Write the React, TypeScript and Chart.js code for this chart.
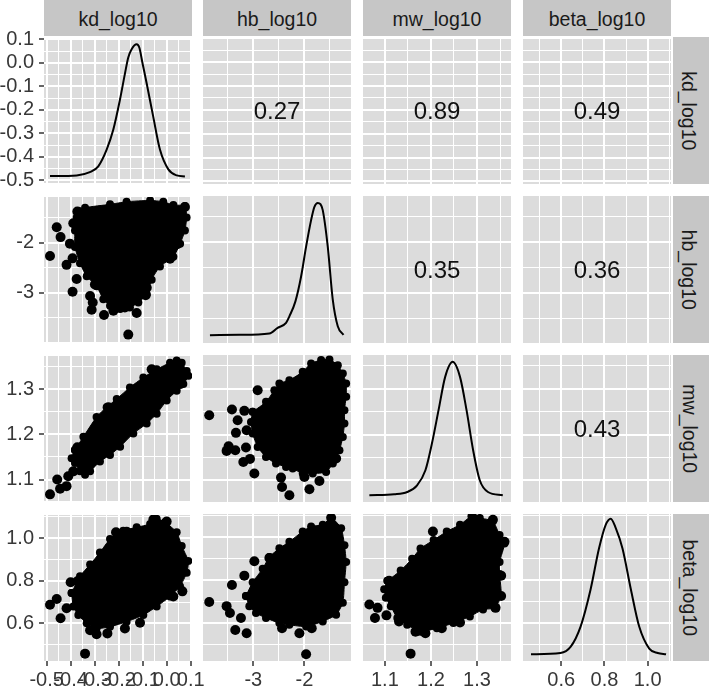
import React, { useEffect, useRef } from 'react';
import { Chart, registerables } from 'chart.js';

Chart.register(...registerables);

// ---------------- data ----------------
const variableNames = ['kd_log10', 'hb_log10', 'mw_log10', 'beta_log10'];

const kdLimits = [-0.511, 0.1055];
const hbLimits = [-3.985, -1.088];
const mwLimits = [1.0525, 1.3738];
const betaLimits = [0.4235, 1.108];

const kdMajorTicks = [-0.5, -0.4, -0.3, -0.2, -0.1, 0.0, 0.1];
const kdTickLabels = ['-0.5', '-0.4', '-0.3', '-0.2', '-0.1', '0.0', '0.1'];
const kdMinorTicks = [-0.45, -0.35, -0.25, -0.15, -0.05, 0.05];

const hbMajorTicks = [-3, -2];
const hbTickLabels = ['-3', '-2'];
const hbMinorTicks = [-3.5, -2.5, -1.5];

const mwMajorTicks = [1.1, 1.2, 1.3];
const mwTickLabels = ['1.1', '1.2', '1.3'];
const mwMinorTicks = [1.15, 1.25, 1.35];

const betaMajorTicks = [0.6, 0.8, 1.0];
const betaTickLabels = ['0.6', '0.8', '1.0'];
const betaMinorTicks = [0.5, 0.7, 0.9, 1.1];

// correlations (upper triangle)
const correlationPairs = [[0, 1], [0, 2], [0, 3], [1, 2], [1, 3], [2, 3]];
const correlationLabels = ['0.27', '0.89', '0.49', '0.35', '0.36', '0.43'];

// diagonal densities (y already in the row variable's units)
const kdDensityX = [-0.486, -0.375, -0.32, -0.285, -0.25, -0.2225, -0.195, -0.174, -0.16, -0.146, -0.125, -0.114, -0.1, -0.083, -0.056, -0.028, 0.007, 0.042, 0.076];
const kdDensityY = [-0.4815, -0.4786, -0.465, -0.44, -0.369, -0.285, -0.159, -0.047, 0.023, 0.058, 0.079, 0.065, -0.005, -0.089, -0.229, -0.369, -0.453, -0.4785, -0.483];

const hbDensityX = [-3.849, -3.275, -2.686, -2.524, -2.359, -2.294, -2.176, -2.065, -1.967, -1.869, -1.804, -1.739, -1.686, -1.641, -1.543, -1.445, -1.347, -1.235];
const hbDensityY = [-3.831, -3.824, -3.798, -3.686, -3.588, -3.459, -3.165, -2.675, -2.086, -1.563, -1.302, -1.224, -1.249, -1.367, -2.086, -3.131, -3.655, -3.824];

const mwDensityX = [1.0663, 1.12, 1.1485, 1.17, 1.188, 1.2021, 1.2165, 1.2309, 1.2472, 1.2631, 1.2773, 1.2916, 1.306, 1.3238, 1.356];
const mwDensityY = [1.0672, 1.0694, 1.0744, 1.0891, 1.1219, 1.1803, 1.2532, 1.326, 1.3589, 1.326, 1.2532, 1.1656, 1.1, 1.0744, 1.0672];

const betaDensityX = [0.4605, 0.5967, 0.6433, 0.6898, 0.7363, 0.7749, 0.806, 0.8293, 0.8526, 0.8837, 0.9223, 0.9609, 1.0074, 1.0465, 1.0851];
const betaDensityY = [0.4545, 0.4607, 0.4891, 0.5839, 0.7578, 0.9474, 1.0578, 1.0863, 1.0422, 0.9474, 0.7578, 0.5839, 0.4815, 0.4607, 0.4545];

// lower-triangle scatter: dense core outline + isolated points  [x, y]
const kdHbCore = [[-0.368, -1.366], [-0.340, -1.301], [-0.236, -1.235], [-0.167, -1.183], [-0.069, -1.157], [-0.014, -1.183], [0.028, -1.248], [0.076, -1.268], [0.083, -1.497], [0.076, -1.758], [0.056, -2.020], [0.028, -2.281], [-0.028, -2.477], [-0.0625, -2.739], [-0.083, -3.033], [-0.118, -3.196], [-0.153, -3.294], [-0.194, -3.327], [-0.236, -3.261], [-0.264, -3.131], [-0.292, -2.869], [-0.333, -2.673], [-0.361, -2.412], [-0.382, -2.085], [-0.382, -1.758], [-0.375, -1.497]];
const kdHbPoints = [[-0.486, -2.268], [-0.458, -1.693], [-0.442, -1.889], [-0.403, -2.020], [-0.417, -2.444], [-0.389, -1.614], [-0.392, -2.314], [-0.375, -2.725], [-0.392, -2.980], [-0.319, -3.065], [-0.308, -3.196], [-0.3125, -3.340], [-0.299, -2.837], [-0.261, -3.444], [-0.222, -3.359], [-0.174, -3.294], [-0.160, -3.837], [-0.125, -3.405], [-0.128, -3.144], [-0.083, -2.902], [-0.0875, -3.052], [0.044, -2.033], [0.014, -2.320], [0.076, -1.288], [-0.372, -1.379]];

const kdMwCore = [[-0.382, 1.1656], [-0.347, 1.1948], [-0.292, 1.2386], [-0.25, 1.2605], [-0.208, 1.2787], [-0.153, 1.3042], [-0.0972, 1.3261], [-0.0417, 1.3443], [0.0139, 1.3589], [0.0417, 1.364], [0.0625, 1.3589], [0.0833, 1.3407], [0.0903, 1.3298], [0.0694, 1.3115], [0.0417, 1.2969], [0.0, 1.2751], [-0.0417, 1.2459], [-0.0833, 1.224], [-0.139, 1.2021], [-0.194, 1.1729], [-0.236, 1.1547], [-0.278, 1.1401], [-0.319, 1.1182], [-0.340, 1.1109], [-0.361, 1.1182], [-0.382, 1.1365], [-0.396, 1.1474]];
const kdMwPoints = [[-0.486, 1.0672], [-0.456, 1.1], [-0.444, 1.0796], [-0.417, 1.0854], [-0.410, 1.1073], [-0.389, 1.1182], [-0.372, 1.1715], [-0.243, 1.2605], [-0.0625, 1.3443], [0.0556, 1.3115]];

const kdBetaCore = [[-0.396, 0.742], [-0.361, 0.821], [-0.319, 0.876], [-0.278, 0.932], [-0.236, 0.995], [-0.181, 1.034], [-0.125, 1.05], [-0.069, 1.066], [-0.0417, 1.09], [-0.0069, 1.074], [0.0417, 1.027], [0.0625, 0.963], [0.0903, 0.892], [0.0833, 0.837], [0.0556, 0.774], [0.0139, 0.726], [-0.0417, 0.679], [-0.0972, 0.639], [-0.167, 0.608], [-0.236, 0.584], [-0.292, 0.576], [-0.333, 0.6], [-0.368, 0.639], [-0.389, 0.679]];
const kdBetaPoints = [[-0.486, 0.687], [-0.458, 0.714], [-0.442, 0.624], [-0.417, 0.671], [-0.4, 0.793], [-0.372, 0.797], [-0.340, 0.458], [-0.319, 0.568], [-0.292, 0.549], [-0.247, 0.553], [-0.174, 0.576], [-0.111, 0.603], [-0.211, 1.027], [-0.167, 1.03], [-0.0556, 1.087], [0.0, 1.077], [0.0653, 0.75], [0.0417, 0.824], [0.0278, 0.726]];

const hbMwCore = [[-3.013, 1.2495], [-2.752, 1.2714], [-2.588, 1.2969], [-2.49, 1.3115], [-2.294, 1.3188], [-2.033, 1.337], [-1.869, 1.3553], [-1.673, 1.3626], [-1.51, 1.364], [-1.346, 1.3516], [-1.248, 1.3334], [-1.183, 1.3115], [-1.183, 1.2824], [-1.216, 1.2532], [-1.216, 1.224], [-1.248, 1.1948], [-1.314, 1.1656], [-1.444, 1.1365], [-1.575, 1.1182], [-1.837, 1.1146], [-2.033, 1.1146], [-2.229, 1.1255], [-2.359, 1.1292], [-2.556, 1.1365], [-2.752, 1.151], [-2.915, 1.1729], [-3.013, 1.2021], [-3.046, 1.2276]];
const hbMwPoints = [[-3.863, 1.2422], [-3.418, 1.2546], [-3.307, 1.2313], [-3.34, 1.2036], [-3.176, 1.2517], [-3.131, 1.2094], [-3.484, 1.1744], [-3.523, 1.1642], [-3.353, 1.1656], [-3.144, 1.1715], [-3.196, 1.1401], [-3.065, 1.1467], [-2.98, 1.1146], [-2.915, 1.2969], [-2.458, 1.1058], [-2.438, 1.0854], [-2.294, 1.0672], [-1.902, 1.0803], [-1.706, 1.0985], [-2.0, 1.1073], [-1.379, 1.1474]];

const hbBetaCore = [[-3.144, 0.726], [-3.013, 0.79], [-2.817, 0.853], [-2.686, 0.908], [-2.49, 0.948], [-2.294, 0.979], [-2.033, 1.027], [-1.869, 1.05], [-1.641, 1.058], [-1.477, 1.09], [-1.281, 1.042], [-1.216, 0.963], [-1.183, 0.884], [-1.216, 0.79], [-1.248, 0.695], [-1.379, 0.639], [-1.641, 0.608], [-1.967, 0.584], [-2.294, 0.592], [-2.49, 0.6], [-2.752, 0.624], [-2.948, 0.647], [-3.078, 0.679]];
const hbBetaPoints = [[-3.863, 0.698], [-3.523, 0.679], [-3.458, 0.647], [-3.418, 0.777], [-3.242, 0.624], [-3.353, 0.568], [-3.131, 0.553], [-2.98, 0.888], [-3.176, 0.821], [-2.438, 0.576], [-2.098, 0.553], [-1.967, 0.455], [-1.856, 0.576], [-2.686, 0.903], [-1.477, 1.09]];

const mwBetaCore = [[1.1056, 0.797], [1.1343, 0.8446], [1.1592, 0.9], [1.1773, 0.947], [1.2058, 0.9867], [1.2343, 1.0265], [1.2631, 1.0578], [1.288, 1.0976], [1.306, 1.0896], [1.3345, 1.074], [1.349, 1.0104], [1.3597, 0.971], [1.349, 0.8844], [1.349, 0.829], [1.3524, 0.726], [1.3382, 0.671], [1.3131, 0.663], [1.2845, 0.631], [1.2487, 0.6], [1.2129, 0.5763], [1.1773, 0.5602], [1.1485, 0.592], [1.127, 0.6237], [1.1129, 0.6787], [1.1021, 0.7185], [1.0985, 0.7578]];
const mwBetaPoints = [[1.0663, 0.6867], [1.0841, 0.671], [1.0785, 0.6237], [1.1034, 0.636], [1.1307, 0.6076], [1.1558, 0.4578], [1.1665, 0.5602], [1.188, 0.5526], [1.2236, 0.5763], [1.2043, 1.0265], [1.2916, 1.0896], [1.3345, 1.0815], [1.3597, 0.979], [1.3524, 0.8209], [1.3524, 0.726], [1.3403, 0.671], [1.2631, 0.603], [1.1092, 0.797]];

// ---------------- lookup tables built from the arrays ----------------
const LIMITS = [kdLimits, hbLimits, mwLimits, betaLimits];
const MAJORS = [kdMajorTicks, hbMajorTicks, mwMajorTicks, betaMajorTicks];
const MINORS = [kdMinorTicks, hbMinorTicks, mwMinorTicks, betaMinorTicks];
const LABELS = [kdTickLabels, hbTickLabels, mwTickLabels, betaTickLabels];
const DENSITIES = [[kdDensityX, kdDensityY], [hbDensityX, hbDensityY], [mwDensityX, mwDensityY], [betaDensityX, betaDensityY]];
const LOWER: Record<string, number[][][]> = {
  '1-0': [kdHbCore, kdHbPoints],
  '2-0': [kdMwCore, kdMwPoints],
  '3-0': [kdBetaCore, kdBetaPoints],
  '2-1': [hbMwCore, hbMwPoints],
  '3-1': [hbBetaCore, hbBetaPoints],
  '3-2': [mwBetaCore, mwBetaPoints],
};

// ---------------- layout / style ----------------
const FONT = '"Liberation Sans", Arial, Helvetica, sans-serif';
const TICK_FONT_SIZE = 20;
const STRIP_FONT_SIZE = 19.5;
const CORR_FONT_SIZE = 24;
const PANEL_LEFT = [44, 203, 363, 523];
const PANEL_TOP = [37, 196, 355, 514];
const PW = 148;
const PH = 147;
const M = 16;
const YAXIS_W = 44;
const XAXIS_H = 25;
const PANEL_BG = '#DCDCDC';
const STRIP_BG = '#C6C6C6';
const STRIP_H = 36;

const panelBg = {
  id: 'panelBg',
  beforeDraw(chart: any) {
    const { ctx, chartArea: a } = chart;
    ctx.save();
    ctx.fillStyle = PANEL_BG;
    ctx.fillRect(a.left, a.top, a.right - a.left, a.bottom - a.top);
    ctx.restore();
  },
};

function buildScale(v: number, axis: 'x' | 'y', withLabels: boolean) {
  const majors = MAJORS[v];
  const labels = LABELS[v];
  const values = [...majors, ...MINORS[v]].sort((a, b) => a - b);
  const majorIndex = (val: number) => majors.findIndex((m) => Math.abs(m - val) < 1e-6);
  return {
    type: 'linear',
    position: axis === 'x' ? 'bottom' : 'left',
    min: LIMITS[v][0],
    max: LIMITS[v][1],
    afterBuildTicks: (scale: any) => {
      scale.ticks = values.map((value) => ({ value }));
    },
    afterFit: (scale: any) => {
      if (!withLabels) return;
      if (axis === 'y') scale.width = YAXIS_W;
      else scale.height = XAXIS_H;
    },
    border: { display: false },
    grid: {
      color: '#FFFFFF',
      lineWidth: (ctx: any) => (ctx.tick && majorIndex(ctx.tick.value) >= 0 ? 2 : 1),
      drawTicks: withLabels,
      tickLength: 5,
      tickWidth: 1.5,
      tickColor: (ctx: any) => (ctx.tick && majorIndex(ctx.tick.value) >= 0 ? '#333333' : 'rgba(0,0,0,0)'),
    },
    ticks: {
      display: withLabels,
      autoSkip: false,
      maxRotation: 0,
      minRotation: 0,
      padding: axis === 'x' ? 2 : 5,
      color: '#383838',
      font: { family: FONT, size: TICK_FONT_SIZE },
      callback: (value: number) => {
        const i = majorIndex(value);
        return i >= 0 ? labels[i] : '';
      },
    },
  };
}

function toXY(pairs: number[][]) {
  return pairs.map(([x, y]) => ({ x, y }));
}

function buildDatasets(r: number, c: number): any[] {
  if (r === c) {
    const [xs, ys] = DENSITIES[r];
    return [
      {
        type: 'line',
        data: xs.map((x, i) => ({ x, y: ys[i] })),
        borderColor: '#000000',
        borderWidth: 2,
        pointRadius: 0,
        fill: false,
        cubicInterpolationMode: 'monotone',
      },
    ];
  }
  const lower = LOWER[`${r}-${c}`];
  if (!lower) return [];
  const [core, pts] = lower;
  const outline = toXY(core);
  outline.push({ ...outline[0] });
  return [
    {
      type: 'line',
      data: outline,
      fill: 'shape',
      backgroundColor: '#000000',
      borderColor: '#000000',
      borderWidth: 1,
      pointRadius: 4,
      pointBackgroundColor: '#000000',
      pointBorderWidth: 0,
      tension: 0.2,
      order: 1,
    },
    {
      type: 'scatter',
      data: toXY(pts),
      pointRadius: 5,
      pointBackgroundColor: '#000000',
      pointBorderWidth: 0,
      backgroundColor: '#000000',
      borderColor: '#000000',
      order: 0,
    },
  ];
}

function geometry(r: number, c: number) {
  const padLeft = c === 0 ? 0 : M;
  const left = c === 0 ? PANEL_LEFT[0] - YAXIS_W : PANEL_LEFT[c] - M;
  const width = (c === 0 ? YAXIS_W : M) + PW + M;
  const top = PANEL_TOP[r] - M;
  const height = M + PH + (r === 3 ? XAXIS_H : M);
  const padding = { left: padLeft, right: M, top: M, bottom: r === 3 ? 0 : M };
  return { left, top, width, height, padding };
}

function Panel({ r, c }: { r: number; c: number }) {
  const ref = useRef<HTMLCanvasElement | null>(null);
  const g = geometry(r, c);
  useEffect(() => {
    if (!ref.current) return;
    const chart = new Chart(ref.current, {
      type: 'scatter',
      data: { datasets: buildDatasets(r, c) },
      options: {
        responsive: false,
        animation: false,
        events: [],
        devicePixelRatio: 1,
        layout: { padding: g.padding },
        plugins: { legend: { display: false }, tooltip: { enabled: false } },
        scales: {
          x: buildScale(c, 'x', r === 3),
          y: buildScale(r, 'y', c === 0),
        },
      } as any,
      plugins: [panelBg],
    } as any);
    return () => chart.destroy();
  }, [r, c]);
  return (
    <canvas
      ref={ref}
      width={g.width}
      height={g.height}
      style={{ position: 'absolute', left: g.left, top: g.top, width: g.width, height: g.height }}
    />
  );
}

export default function App() {
  const idx = [0, 1, 2, 3];
  return (
    <div
      style={{
        position: 'absolute',
        left: 0,
        top: 0,
        width: 709,
        height: 686,
        overflow: 'hidden',
        background: '#FFFFFF',
        fontFamily: FONT,
      }}
    >
      {idx.map((c) => (
        <div
          key={`ts${c}`}
          style={{
            position: 'absolute',
            left: PANEL_LEFT[c],
            top: 0,
            width: PW,
            height: STRIP_H,
            background: STRIP_BG,
            color: '#1A1A1A',
            fontSize: STRIP_FONT_SIZE,
            lineHeight: 1,
            display: 'flex',
            alignItems: 'center',
            justifyContent: 'center',
            paddingTop: 3,
            boxSizing: 'border-box',
          }}
        >
          {variableNames[c]}
        </div>
      ))}
      {idx.map((r) => (
        <div
          key={`rs${r}`}
          style={{
            position: 'absolute',
            left: 673,
            top: PANEL_TOP[r],
            width: 36,
            height: PH,
            background: STRIP_BG,
            color: '#1A1A1A',
            fontSize: STRIP_FONT_SIZE,
            lineHeight: 1,
            display: 'flex',
            alignItems: 'center',
            justifyContent: 'center',
          }}
        >
          <span style={{ display: 'inline-block', whiteSpace: 'nowrap', transform: 'translateX(-2.5px) rotate(90deg)' }}>
            {variableNames[r]}
          </span>
        </div>
      ))}
      {idx.map((r) => idx.map((c) => <Panel key={`p${r}-${c}`} r={r} c={c} />))}
      {correlationPairs.map(([r, c], i) => (
        <div
          key={`cor${i}`}
          style={{
            position: 'absolute',
            left: PANEL_LEFT[c],
            top: PANEL_TOP[r],
            width: PW,
            height: PH,
            display: 'flex',
            alignItems: 'center',
            justifyContent: 'center',
            fontSize: CORR_FONT_SIZE,
            lineHeight: 1,
            color: '#111111',
          }}
        >
          {correlationLabels[i]}
        </div>
      ))}
    </div>
  );
}
